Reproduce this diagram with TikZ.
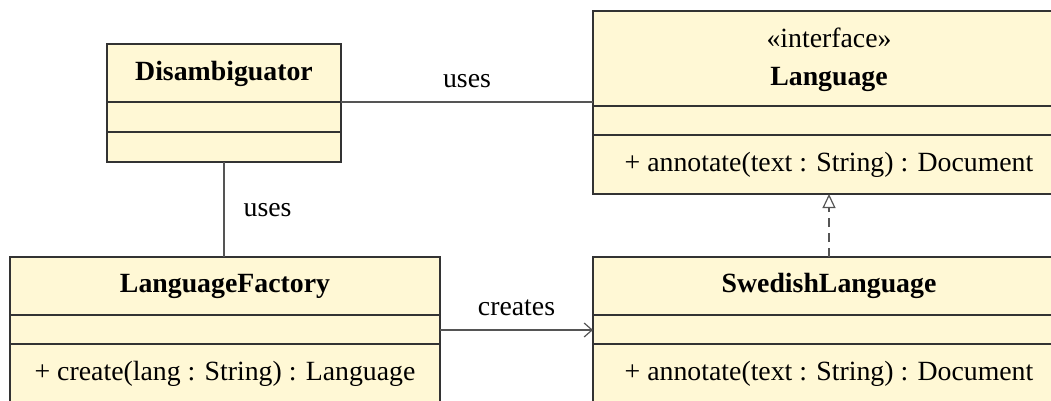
\documentclass[tikz,border=0pt]{standalone}
\usepackage{fontspec}
\setmainfont{Liberation Serif}
\usetikzlibrary{arrows.meta}
\definecolor{clsfill}{HTML}{FFF8D5}
\definecolor{clsline}{HTML}{333333}
\definecolor{conline}{HTML}{555555}
\tikzset{
  cls/.style={draw=clsline, fill=clsfill, line width=1.3pt, inner sep=0pt, outer sep=0pt, rectangle},
  divider/.style={draw=clsline, line width=1.3pt},
  txt/.style={inner sep=0pt, font=\fontsize{27.8}{32}\selectfont, text height=19pt, text depth=6pt},
  ttl/.style={txt, font=\fontsize{27.8}{32}\selectfont\bfseries},
  conn/.style={draw=conline, line width=1.2pt},
  lbl/.style={txt}
}
\begin{document}
\begin{tikzpicture}[x=1pt,y=-1pt]
\useasboundingbox (0,0) rectangle (1051,401);
\clip (0,0) rectangle (1051,401);
% Disambiguator
\node[cls, minimum width=234pt, minimum height=118pt] (dis) at (224,103) {};
\draw[divider] (107,102) -- (341,102);
\draw[divider] (107,132) -- (341,132);
\node[ttl] (disT) at (224,74) {Disambiguator};
% Language
\node[cls, minimum width=472pt, minimum height=183pt] (lang) at (829,102.5) {};
\draw[divider] (593,106) -- (1065,106);
\draw[divider] (593,135) -- (1065,135);
\node[txt] (langS) at (829,41) {«interface»};
\node[ttl] (langT) at (829,79) {Language};
\node[txt] (langM) at (829,165) {+ annotate(text : String) : Document};
% LanguageFactory
\node[cls, minimum width=430pt, minimum height=146pt] (fac) at (225,330) {};
\draw[divider] (10,315) -- (440,315);
\draw[divider] (10,344) -- (440,344);
\node[ttl] (facT) at (225,286) {LanguageFactory};
\node[txt] (facM) at (225,374) {+ create(lang : String) : Language};
% SwedishLanguage
\node[cls, minimum width=472pt, minimum height=146pt] (swe) at (829,330) {};
\draw[divider] (593,315) -- (1065,315);
\draw[divider] (593,344) -- (1065,344);
\node[ttl] (sweT) at (829,286) {SwedishLanguage};
\node[txt] (sweM) at (829,374) {+ annotate(text : String) : Document};
% connectors
\coordinate (usesA) at (dis.east |- 0,102);
\coordinate (usesB) at (lang.west |- 0,102);
\draw[conn] (usesA) -- node[lbl, above=8pt] (usesL1) {uses} (usesB);
\draw[conn] (dis.south) -- node[lbl, right=19pt] (usesL2) {uses} (dis.south |- fac.north);
\coordinate (crA) at (fac.east |- 0,330);
\coordinate (crB) at (swe.west |- 0,330);
\draw[conn, -{Straight Barb[length=8pt,width=14pt,line width=1.2pt]}] (crA) -- node[lbl, above=8pt] (crL) {creates} (crB);
\draw[conn, dashed, dash pattern=on 9pt off 6pt, -{Triangle[open,length=14pt,width=13pt,line width=1.2pt]}] (swe.north) -- (lang.south);
\end{tikzpicture}
\end{document}
